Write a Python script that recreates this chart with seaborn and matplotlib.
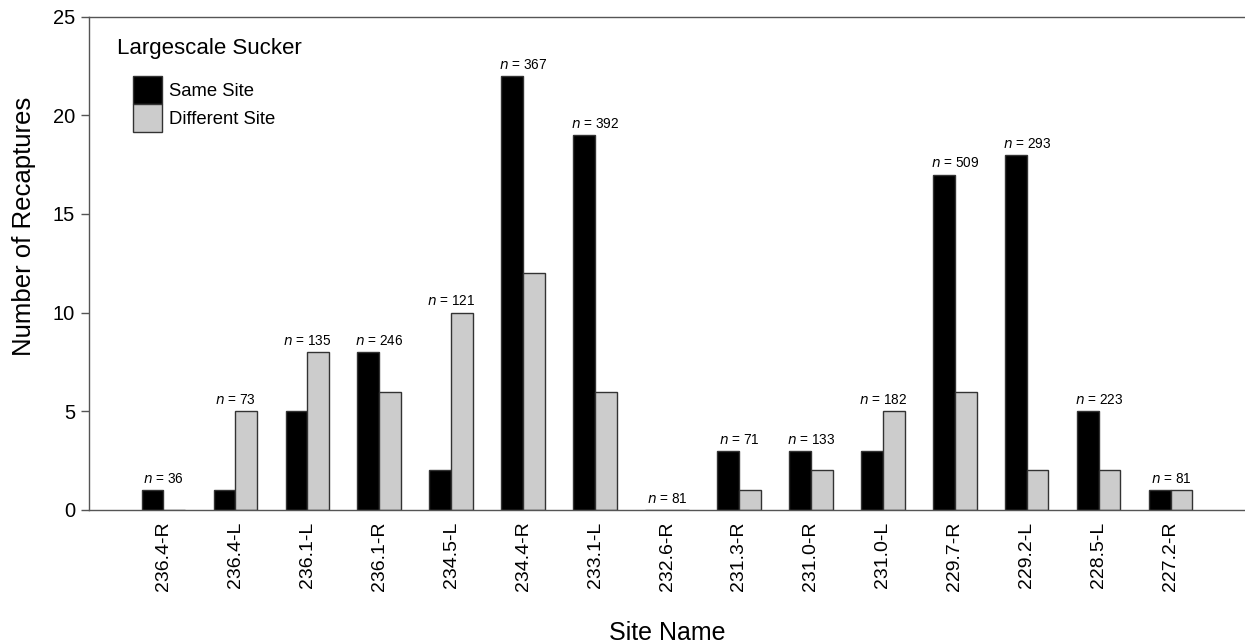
import matplotlib
matplotlib.use("Agg")
import matplotlib.pyplot as plt
from matplotlib.patches import Patch
import seaborn as sns
import pandas as pd

sites = ["236.4-R", "236.4-L", "236.1-L", "236.1-R", "234.5-L", "234.4-R", "233.1-L",
         "232.6-R", "231.3-R", "231.0-R", "231.0-L", "229.7-R", "229.2-L", "228.5-L", "227.2-R"]
same_site = [1, 1, 5, 8, 2, 22, 19, 0, 3, 3, 3, 17, 18, 5, 1]
different_site = [0, 5, 8, 6, 10, 12, 6, 0, 1, 2, 5, 6, 2, 2, 1]
n_tagged = [36, 73, 135, 246, 121, 367, 392, 81, 71, 133, 182, 509, 293, 223, 81]
series = ["Same Site", "Different Site"]
colors = ["#000000", "#cccccc"]

df = pd.DataFrame({
    "Site": sites * 2,
    "Recaptures": same_site + different_site,
    "Type": [series[0]] * len(sites) + [series[1]] * len(sites),
})

sns.set_style("white")
plt.rcParams["font.family"] = ["Liberation Sans", "DejaVu Sans"]
plt.rcParams["text.color"] = "black"
plt.rcParams["axes.labelcolor"] = "black"
plt.rcParams["xtick.labelcolor"] = "black"
plt.rcParams["ytick.labelcolor"] = "black"

fig = plt.figure(figsize=(12.45, 6.43), dpi=100)
ax = fig.add_axes([0.0715, 0.207, 0.9285, 0.767])

sns.barplot(data=df, x="Site", y="Recaptures", hue="Type", order=sites,
            hue_order=series, palette=colors, width=0.6, gap=0,
            edgecolor="#333333", linewidth=1.0, saturation=1, legend=False, ax=ax)

ax.set_xlim(-1.03, 15.03)
ax.set_ylim(0, 25)
ax.set_yticks([0, 5, 10, 15, 20, 25])
ax.tick_params(axis="y", which="major", direction="out", length=6, width=1,
               color="#555555", labelsize=14.5, left=True, pad=4)
ax.tick_params(axis="x", bottom=False, labelsize=14, labelrotation=90, pad=5)

for side in ["top", "left", "bottom"]:
    ax.spines[side].set_visible(True)
    ax.spines[side].set_color("#555555")
    ax.spines[side].set_linewidth(1.0)
ax.spines["right"].set_visible(False)

ax.set_xlabel("Site Name", fontsize=18, labelpad=21)
ax.set_ylabel("Number of Recaptures", fontsize=18.5)
ax.yaxis.set_label_coords(-0.046, 0.574)

for i, (a, b, n) in enumerate(zip(same_site, different_site, n_tagged)):
    ax.annotate(f"$\\it{{n}}$ = {n}", xy=(i, max(a, b)), xytext=(0, 3),
                textcoords="offset points", ha="center", va="bottom", fontsize=9.8)

ax.text(0.024, 0.935, "Largescale Sucker", transform=ax.transAxes,
        fontsize=16, ha="left", va="center")
handles = [Patch(facecolor=c, edgecolor="#333333", linewidth=1.0) for c in colors]
ax.legend(handles, series, loc="upper left", bbox_to_anchor=(0.038, 0.88),
          frameon=False, handlelength=1.55, handleheight=1.95, labelspacing=0.0,
          handletextpad=0.4, borderaxespad=0, borderpad=0, fontsize=13.3)

fig.savefig("out.png", dpi=100)
